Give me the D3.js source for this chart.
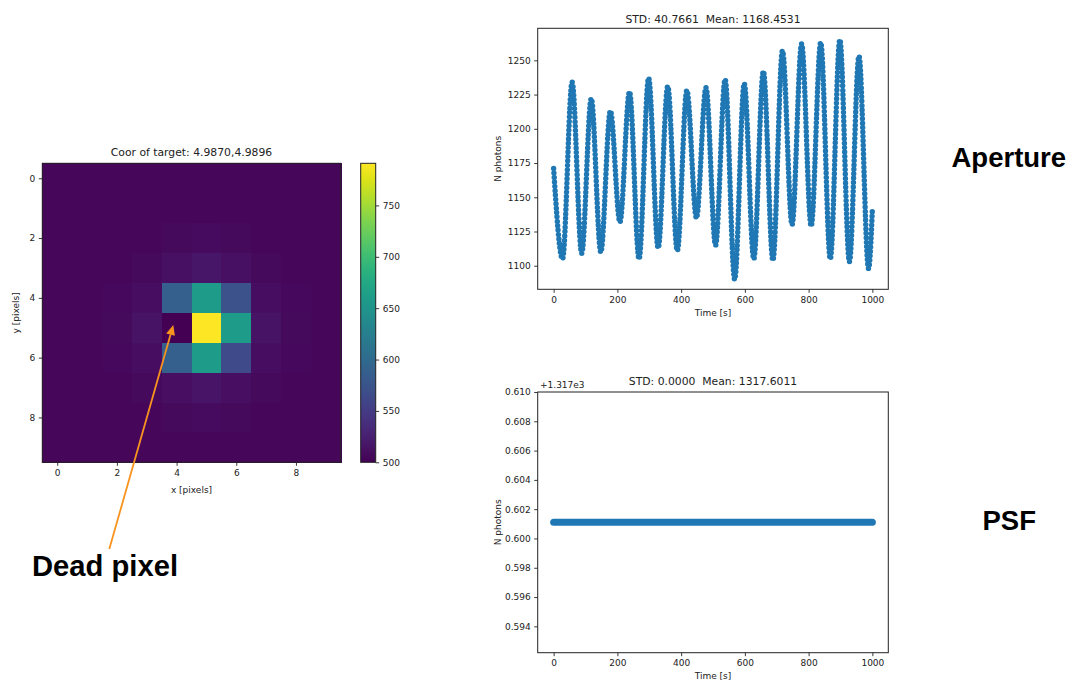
<!DOCTYPE html>
<html><head><meta charset="utf-8">
<script src="https://cdn.jsdelivr.net/npm/d3@7"></script>
<style>
body{margin:0;background:#fff}
svg{display:block}
text{font-family:"DejaVu Sans",sans-serif;fill:#222}
.big{font-family:"Liberation Sans",Arial,sans-serif;font-weight:bold;fill:#000}
</style>
</head><body>
<svg id="c" width="1075" height="686"></svg>
<script>
// ---------- data ----------
const pixelIndex = [0,1,2,3,4,5,6,7,8,9];
const pixelRows = [
  [505,505,505,505,505,505,505,505,505,505],
  [505,505,505,505,505,505,505,505,505,505],
  [505,505,505,505,507,509,507,505,505,505],
  [505,505,505,507,512,516,512,507,505,505],
  [505,505,506,510,587,660,573,510,506,505],
  [505,505,507,514,500,791,660,514,507,505],
  [505,505,506,510,587,660,565,510,506,505],
  [505,505,505,507,511,515,511,507,505,505],
  [505,505,505,505,507,508,507,505,505,505],
  [505,505,505,505,505,505,505,505,505,505]
];
const colorMin = 500, colorMax = 791;
const colorTicks = [500,550,600,650,700,750];
const pixelTicks = [0,2,4,6,8];

const apTime = [0,28,58,88,118,148,178,208,238,268,298,328,358,388,418,448,478,508,538,568,598,628,658,688,718,748,778,808,838,868,898,928,958,988,1000];
const apFlux = [1171,1105,1234,1109,1222,1110,1213,1132,1227,1105,1237,1113,1231,1111,1228,1135,1230,1115,1236,1090,1233,1105,1242,1104,1257,1130,1262,1129,1263,1105,1265,1103,1253,1098,1141];
const timeTicks = [0,200,400,600,800,1000];
const apTicks = [1100,1125,1150,1175,1200,1225,1250];

const psfTime = [0,1000];
const psfFlux = [1317.6011,1317.6011];
const psfOffset = 1317;
const psfTicks = [0.594,0.596,0.598,0.600,0.602,0.604,0.606,0.608,0.610];

// ---------- drawing ----------
const svg = d3.select("#c");
const blue = "#1f77b4";
const fmtInt = d3.format("d");

function styleAxis(g, size){
  g.select(".domain").remove();
  g.selectAll(".tick line").attr("stroke","#222").attr("stroke-width",0.9);
  g.selectAll(".tick text").attr("font-size",size).attr("fill","#222").attr("font-family","DejaVu Sans");
}
function frame(x0,y0,x1,y1){
  svg.append("rect").attr("x",x0).attr("y",y0).attr("width",x1-x0).attr("height",y1-y0)
    .attr("fill","none").attr("stroke","#222").attr("stroke-width",1);
}

// ---- heatmap ----
const hx = d3.scaleLinear().domain([-0.5,9.5]).range([42.3,340.7]);
const hy = d3.scaleLinear().domain([-0.5,9.5]).range([163.3,462.3]);
const col = d3.scaleSequential(d3.interpolateViridis).domain([colorMin,colorMax]);
const cells = [];
pixelRows.forEach((row,j)=>row.forEach((v,i)=>cells.push({x:pixelIndex[i],y:pixelIndex[j],v})));
svg.append("g").attr("shape-rendering","crispEdges").selectAll("rect").data(cells).join("rect")
  .attr("x",d=>hx(d.x-0.5)).attr("y",d=>hy(d.y-0.5))
  .attr("width",hx(1)-hx(0)+1).attr("height",hy(1)-hy(0)+1)
  .attr("fill",d=>col(d.v));
frame(42.3,163.3,340.7,462.3);
svg.append("g").attr("transform","translate(0,462.3)")
  .call(d3.axisBottom(hx).tickValues(pixelTicks).tickSize(3.5).tickPadding(3.5)).call(g=>styleAxis(g,9));
svg.append("g").attr("transform","translate(42.3,0)")
  .call(d3.axisLeft(hy).tickValues(pixelTicks).tickSize(3.5).tickPadding(3.5)).call(g=>styleAxis(g,9));
svg.append("text").attr("x",191.5).attr("y",156).attr("text-anchor","middle").attr("font-size",10.8)
  .text("Coor of target: 4.9870,4.9896");
svg.append("text").attr("x",191.5).attr("y",493).attr("text-anchor","middle").attr("font-size",9).text("x [pixels]");
svg.append("text").attr("transform","translate(19,312.8) rotate(-90)").attr("text-anchor","middle").attr("font-size",9).text("y [pixels]");

// colorbar
const cb = d3.scaleLinear().domain([colorMin,colorMax]).range([462.3,163.3]);
const grad = svg.append("defs").append("linearGradient").attr("id","vir")
  .attr("x1","0").attr("y1","1").attr("x2","0").attr("y2","0");
d3.range(0,1.0001,0.05).forEach(t=>grad.append("stop").attr("offset",t).attr("stop-color",d3.interpolateViridis(t)));
svg.append("rect").attr("x",360.7).attr("y",163.3).attr("width",15).attr("height",299).attr("fill","url(#vir)");
frame(360.7,163.3,375.7,462.3);
svg.append("g").attr("transform","translate(375.7,0)")
  .call(d3.axisRight(cb).tickValues(colorTicks).tickSize(3.5).tickPadding(3.5)).call(g=>styleAxis(g,9));

// arrow annotation
const ax0=109.3, ay0=549, ax1=173.3, ay1=325;
const ang = Math.atan2(ay1-ay0, ax1-ax0);
const hl=10, hw=4.5;
const bx = ax1 - hl*Math.cos(ang), by = ay1 - hl*Math.sin(ang);
svg.append("line").attr("x1",ax0).attr("y1",ay0).attr("x2",bx).attr("y2",by)
  .attr("stroke","#f7931e").attr("stroke-width",1.8);
svg.append("polygon").attr("fill","#f7931e").attr("points",[
  [ax1,ay1],
  [bx + hw*Math.sin(ang), by - hw*Math.cos(ang)],
  [bx - hw*Math.sin(ang), by + hw*Math.cos(ang)]
].map(p=>p.join(",")).join(" "));
svg.append("text").attr("class","big").attr("x",32).attr("y",576).attr("font-size",29.2).text("Dead pixel");

// ---- aperture plot ----
const tx = d3.scaleLinear().domain([-50,1050]).range([537.7,888.3]);
const ay = d3.scaleLinear().domain([1082.8,1273.4]).range([289.3,28.3]);
const apData = apTime.map((t,i)=>({t,v:apFlux[i]}));
svg.append("path").datum(apData)
  .attr("d",d3.line().x(d=>tx(d.t)).y(d=>ay(d.v)).curve(d3.curveMonotoneX))
  .attr("fill","none").attr("stroke",blue).attr("stroke-width",5.4)
  .attr("stroke-linecap","round").attr("stroke-dasharray","0 4.4");
frame(537.7,28.3,888.3,289.3);
svg.append("g").attr("transform","translate(0,289.3)")
  .call(d3.axisBottom(tx).tickValues(timeTicks).tickFormat(fmtInt).tickSize(3.5).tickPadding(3.5)).call(g=>styleAxis(g,9));
svg.append("g").attr("transform","translate(537.7,0)")
  .call(d3.axisLeft(ay).tickValues(apTicks).tickFormat(fmtInt).tickSize(3.5).tickPadding(3.5)).call(g=>styleAxis(g,9));
svg.append("text").attr("x",713).attr("y",23).attr("text-anchor","middle").attr("font-size",10.8)
  .attr("xml:space","preserve").style("white-space","pre").text("STD: 40.7661  Mean: 1168.4531");
svg.append("text").attr("x",713).attr("y",316).attr("text-anchor","middle").attr("font-size",9).text("Time [s]");
svg.append("text").attr("transform","translate(501,158.8) rotate(-90)").attr("text-anchor","middle").attr("font-size",9).text("N photons");
svg.append("text").attr("class","big").attr("x",951.5).attr("y",166.7).attr("font-size",27.5).text("Aperture");

// ---- PSF plot ----
const py = d3.scaleLinear().domain([0.5922,0.6100]).range([652.7,392]);
const psfData = psfTime.map((t,i)=>({t,v:psfFlux[i]-psfOffset}));
svg.append("path").datum(psfData)
  .attr("d",d3.line().x(d=>tx(d.t)).y(d=>py(d.v)))
  .attr("fill","none").attr("stroke",blue).attr("stroke-width",7).attr("stroke-linecap","round");
frame(537.7,392,888.3,652.7);
svg.append("g").attr("transform","translate(0,652.7)")
  .call(d3.axisBottom(tx).tickValues(timeTicks).tickFormat(fmtInt).tickSize(3.5).tickPadding(3.5)).call(g=>styleAxis(g,9));
svg.append("g").attr("transform","translate(537.7,0)")
  .call(d3.axisLeft(py).tickValues(psfTicks).tickSize(3.5).tickPadding(3.5).tickFormat(d3.format(".3f"))).call(g=>styleAxis(g,9));
svg.append("text").attr("x",540).attr("y",388).attr("font-size",9).text("+1.317e3");
svg.append("text").attr("x",713).attr("y",385).attr("text-anchor","middle").attr("font-size",10.8)
  .attr("xml:space","preserve").style("white-space","pre").text("STD: 0.0000  Mean: 1317.6011");
svg.append("text").attr("x",713).attr("y",679).attr("text-anchor","middle").attr("font-size",9).text("Time [s]");
svg.append("text").attr("transform","translate(501,522.4) rotate(-90)").attr("text-anchor","middle").attr("font-size",9).text("N photons");
svg.append("text").attr("class","big").attr("x",982.5).attr("y",530).attr("font-size",27.5).text("PSF");
</script>
</body></html>
